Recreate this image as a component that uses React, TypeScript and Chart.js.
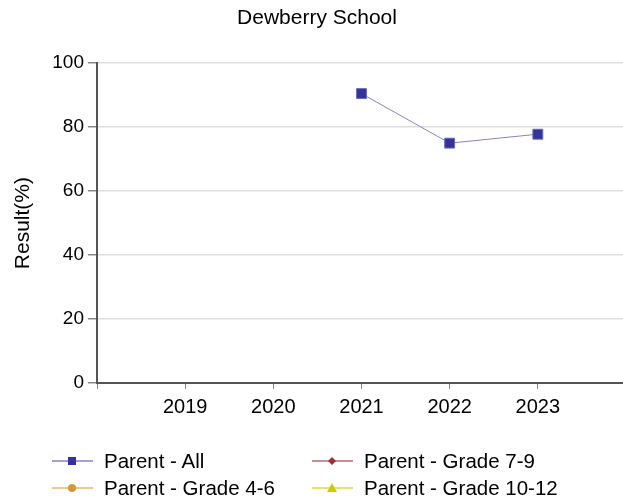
import React, { useEffect, useRef } from "react";
import { Chart, registerables } from "chart.js";

Chart.register(...registerables);

const TITLE = "Dewberry School";
const Y_TITLE = "Result(%)";
const YEARS = [2019, 2020, 2021, 2022, 2023];
const PARENT_ALL = [null, null, 90.5, 75.0, 77.8];
const PARENT_4_6 = [null, null, null, null, null];
const PARENT_7_9 = [null, null, null, null, null];
const PARENT_10_12 = [null, null, null, null, null];
const SERIES_LABELS = ["Parent - All", "Parent - Grade 7-9", "Parent - Grade 4-6", "Parent - Grade 10-12"];
const Y_MIN = 0;
const Y_MAX = 100;
const Y_STEP = 20;

const FONT = '"Liberation Sans", Arial, sans-serif';

type SeriesStyle = { line: string; fill: string; border: string; shape: "rect" | "circle" | "rectRot" | "triangle" };
const STYLES: SeriesStyle[] = [
  { line: "#8383cc", fill: "#333399", border: "#6a6ab8", shape: "rect" },
  { line: "#b56a6a", fill: "#993333", border: "#993333", shape: "rectRot" },
  { line: "#e3b66a", fill: "#cc9933", border: "#cc9933", shape: "circle" },
  { line: "#d8d84a", fill: "#cccc00", border: "#cccc00", shape: "triangle" },
];
const SERIES_DATA = [PARENT_ALL, PARENT_7_9, PARENT_4_6, PARENT_10_12];

function Marker({ shape, color }: { shape: string; color: string }) {
  const c = 6;
  let el: React.ReactNode = null;
  if (shape === "rect") el = <rect x={20 - 4} y={c - 4} width={8} height={8} fill={color} />;
  else if (shape === "circle") el = <circle cx={20} cy={c} r={4} fill={color} />;
  else if (shape === "rectRot") el = <polygon points={`20,${c - 4} 24,${c} 20,${c + 4} 16,${c}`} fill={color} />;
  else el = <polygon points={`20,${c - 5} 25,${c + 4} 15,${c + 4}`} fill={color} />;
  return el as any;
}

export default function App() {
  const ref = useRef<HTMLCanvasElement | null>(null);
  useEffect(() => {
    if (!ref.current) return;
    const datasets = SERIES_LABELS.map((label, i) => ({
      label,
      data: YEARS.map((y, j) => ({ x: y, y: SERIES_DATA[i][j] })),
      borderColor: STYLES[i].line,
      backgroundColor: STYLES[i].fill,
      pointBackgroundColor: STYLES[i].fill,
      pointBorderColor: STYLES[i].border,
      pointBorderWidth: 1,
      pointStyle: STYLES[i].shape,
      pointRadius: 7,
      borderWidth: 1,
      spanGaps: false,
    }));
    const chart = new Chart(ref.current, {
      type: "line",
      data: { datasets: datasets as any },
      options: {
        animation: false,
        responsive: false,
        maintainAspectRatio: false,
        layout: { padding: { left: 0, right: 0, top: 0, bottom: 76 } },
        plugins: {
          legend: { display: false },
          tooltip: { enabled: false },
          title: {
            display: true,
            text: TITLE,
            color: "#000",
            font: { family: FONT, size: 21, weight: "normal" },
            padding: { top: 6, bottom: 32 },
          },
        },
        scales: {
          x: {
            type: "linear",
            min: YEARS[0] - 1,
            max: YEARS[YEARS.length - 1] + 1,
            ticks: {
              stepSize: 1,
              color: "#000",
              font: { family: FONT, size: 20 },
              padding: 6,
              maxRotation: 0,
              callback: (v: any) => (YEARS.includes(Number(v)) ? String(v) : ""),
            },
            grid: { display: true, drawOnChartArea: false, drawTicks: true, tickLength: 6, color: "#888" },
            border: { color: "#555", width: 2 },
            afterFit: (s: any) => { s.height = 40; },
          },
          y: {
            min: Y_MIN,
            max: Y_MAX,
            ticks: { stepSize: Y_STEP, color: "#000", font: { family: FONT, size: 19 }, padding: 4 },
            grid: { color: "#dedede", lineWidth: 1.5, tickColor: "#888", tickLength: 9 },
            border: { color: "#555", width: 2 },
            title: {
              display: true,
              text: Y_TITLE,
              color: "#000",
              font: { family: FONT, size: 21 },
              padding: { top: 11, bottom: 0 },
            },
            afterFit: (s: any) => { s.width = 97; },
          },
        },
      },
    });
    return () => chart.destroy();
  }, []);

  const legendPos = [
    { left: 52, top: 449 },
    { left: 312, top: 449 },
    { left: 52, top: 476 },
    { left: 312, top: 476 },
  ];

  return (
    <div style={{ position: "fixed", left: 0, top: 0, width: 623, height: 499, overflow: "hidden", background: "#fff" }}>
      <canvas ref={ref} width={634} height={499} style={{ display: "block", width: 634, height: 499 }} />
      {SERIES_LABELS.map((label, i) => (
        <div
          key={label}
          style={{
            position: "absolute",
            left: legendPos[i].left,
            top: legendPos[i].top,
            height: 24,
            display: "flex",
            alignItems: "center",
            fontFamily: FONT,
            fontSize: 20.5,
            color: "#000",
            whiteSpace: "nowrap",
          }}
        >
          <svg width={41} height={12} style={{ marginRight: 11 }}>
            <line x1={0} y1={6} x2={41} y2={6} stroke={STYLES[i].line} strokeWidth={1.5} />
            <Marker shape={STYLES[i].shape} color={STYLES[i].fill} />
          </svg>
          <span>{label}</span>
        </div>
      ))}
    </div>
  );
}
